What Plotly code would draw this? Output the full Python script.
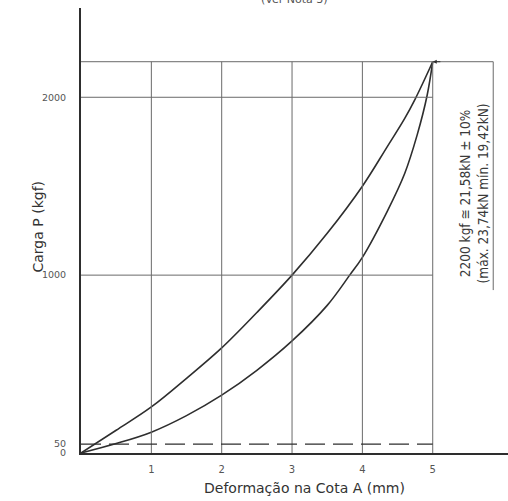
import plotly.graph_objects as go

# Data
deform_upper = [0, 0.5, 1, 1.5, 2, 2.5, 3, 3.5, 4, 4.35, 4.6, 4.75, 5]
load_upper = [0, 128, 259, 420, 591, 790, 1000, 1235, 1500, 1720, 1880, 1990, 2200]
deform_lower = [0, 0.5, 1, 1.5, 2, 2.5, 3, 3.5, 3.82, 4, 4.35, 4.6, 4.78, 4.92, 5]
load_lower = [0, 53, 117, 210, 325, 465, 630, 830, 1000, 1100, 1356, 1570, 1790, 2010, 2200]

x_ticks = [1, 2, 3, 4, 5]
y_ticks = [0, 50, 1000, 2000]
y_grid = [1000, 2000]
max_load = 2200
min_load_line = 50
bracket_x = 5.86
bracket_bottom = 916

font_fam = "DejaVu Sans, sans-serif"
line_col = "#2e2e2e"
grid_col = "#6a6a6a"

fig = go.Figure()
fig.add_trace(go.Scatter(x=deform_upper, y=load_upper, mode="lines",
                         line=dict(color=line_col, width=1.6, shape="spline", smoothing=1.0),
                         showlegend=False, hoverinfo="skip"))
fig.add_trace(go.Scatter(x=deform_lower, y=load_lower, mode="lines",
                         line=dict(color=line_col, width=1.6, shape="spline", smoothing=1.0),
                         showlegend=False, hoverinfo="skip"))

shapes = []
for xv in x_ticks:
    shapes.append(dict(type="line", xref="x", yref="y", x0=xv, x1=xv, y0=0, y1=max_load,
                       line=dict(color=grid_col, width=1)))
for yv in y_grid:
    shapes.append(dict(type="line", xref="x", yref="y", x0=0, x1=5, y0=yv, y1=yv,
                       line=dict(color=grid_col, width=1)))
shapes.append(dict(type="line", xref="x", yref="y", x0=0, x1=bracket_x, y0=max_load, y1=max_load,
                   line=dict(color=grid_col, width=1)))
shapes.append(dict(type="line", xref="x", yref="y", x0=bracket_x, x1=bracket_x, y0=max_load, y1=bracket_bottom,
                   line=dict(color=grid_col, width=1)))
shapes.append(dict(type="line", xref="x", yref="y", x0=0, x1=5, y0=min_load_line, y1=min_load_line,
                   line=dict(color=line_col, width=1.2, dash="20px,8px")))
fig.update_layout(shapes=shapes)

annotations = [
    dict(x=5.59, y=1461, xref="x", yref="y", showarrow=False, textangle=-90,
         text="2200 kgf ≅ 21,58kN ± 10%<br>(máx. 23,74kN mín. 19,42kN)",
         font=dict(family="DejaVu Sans Condensed, DejaVu Sans, sans-serif", size=13.5, color="#3a3a3a")),
    dict(x=5, y=max_load, xref="x", yref="y", ax=5.13, ay=max_load, axref="x", ayref="y",
         showarrow=True, arrowhead=2, arrowsize=0.8, arrowwidth=1, arrowcolor=line_col, text=""),
    dict(x=0.5, y=0, xref="paper", yref="paper", showarrow=False, yanchor="middle",
         xshift=10, yshift=-35,
         text="Deformação na Cota A (mm)",
         font=dict(family=font_fam, size=14, color="#333333")),
    dict(x=0, y=0.5, xref="paper", yref="paper", showarrow=False, textangle=-90,
         xshift=-54, yshift=4, text="Carga P (kgf)",
         font=dict(family=font_fam, size=14, color="#333333")),
    dict(x=0.5, y=1, xref="paper", yref="paper", showarrow=False, yanchor="middle", yshift=9,
         text="(Ver Nota 3)", font=dict(family=font_fam, size=11, color="#555555")),
]
fig.update_layout(annotations=annotations)

fig.update_layout(
    width=508, height=501,
    margin=dict(l=81, r=0, t=8, b=48, autoexpand=False),
    paper_bgcolor="white", plot_bgcolor="white",
    font=dict(family=font_fam, size=10, color="#555555"),
    xaxis=dict(range=[0, 6.07], tickvals=x_ticks, ticktext=[str(v) for v in x_ticks],
               showgrid=False, zeroline=False, showline=True, linecolor=line_col, linewidth=1.5,
               ticks="", ticklabelstandoff=6, fixedrange=True, automargin=False),
    yaxis=dict(range=[0, 2502], tickvals=y_ticks, ticktext=[str(v) for v in y_ticks],
               showgrid=False, zeroline=False, showline=True, linecolor=line_col, linewidth=2,
               ticks="", ticklabelstandoff=11, fixedrange=True, automargin=False,
               tickfont=dict(size=9.5)),
)

fig.write_html("out.html", config={"displayModeBar": False},
               post_script="document.body.style.margin='0';")
